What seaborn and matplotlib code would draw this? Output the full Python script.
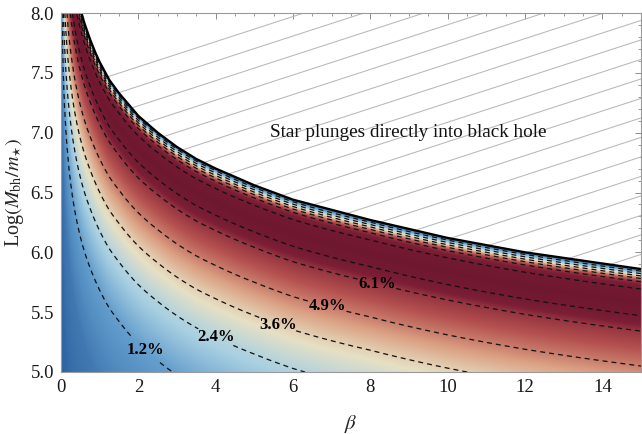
import numpy as np
import matplotlib
matplotlib.use("Agg")
import matplotlib.pyplot as plt
from matplotlib.patches import Polygon
from matplotlib.ticker import MultipleLocator
import seaborn as sns

# Plunge line: points along the black curve (beta, log M_bh/m_star)
plunge_beta = [0.53, 0.60, 0.75, 0.90, 1.0, 1.25, 1.5, 2.0, 2.5, 3.0, 3.5, 4.0, 5.0, 6.0, 8.0, 10.0, 12.0, 15.0]
plunge_logm = [8.00, 7.92, 7.78, 7.66, 7.59, 7.44, 7.33, 7.14, 7.00, 6.88, 6.78, 6.70, 6.56, 6.44, 6.27, 6.12, 6.00, 5.86]

# Efficiency (%) against depth below the plunge line, in dex of beta * M^(2/3)
depth = [0.0, 0.012, 0.025, 0.038, 0.052, 0.070, 0.110, 0.19, 0.26, 0.345, 0.54, 0.725, 0.94, 1.27, 1.8, 2.6, 4.0]
efficiency = [0.5, 1.2, 2.4, 3.6, 4.9, 6.1, 7.3, 7.7, 7.3, 6.1, 4.9, 3.6, 2.4, 1.2, 0.45, 0.1, 0.0]

# Contour levels and where their labels sit
levels = [1.2, 2.4, 3.6, 4.9, 6.1, 7.3]
label_beta = [2.22, 4.0, 5.6, 6.88, 8.17]
label_logm = [5.20, 5.29, 5.39, 5.53, 5.71]

x_ticks = [0, 2, 4, 6, 8, 10, 12, 14]
y_ticks = [5.0, 5.5, 6.0, 6.5, 7.0, 7.5, 8.0]

sns.set_style("ticks")
plt.rcParams["font.family"] = ["Liberation Serif", "DejaVu Serif"]
plt.rcParams["mathtext.fontset"] = "stix"

cmap = sns.blend_palette(
    ["#2d62a0", "#5f9acb", "#a9d0e2", "#e6e0c4", "#dba184", "#b4504f", "#7d1f36", "#6e1830"],
    as_cmap=True,
)

fig = plt.figure(figsize=(6.42, 4.34), dpi=100)
ax = fig.add_axes([61 / 642, 62 / 434, 580 / 642, 359 / 434])

# Efficiency field on a beta / log-mass grid
bgrid = np.linspace(1e-3, 15, 900)
mgrid = np.linspace(5, 8, 600)
B, M = np.meshgrid(bgrid, mgrid)
logu_line = np.log10(plunge_beta) + (2.0 / 3.0) * np.array(plunge_logm)
logu_edge = np.interp(np.log10(B), np.log10(plunge_beta), logu_line)
s = logu_edge - (np.log10(B) + (2.0 / 3.0) * M)
F = np.interp(s, depth, efficiency)
F = np.ma.masked_where(s < 0, F)

ax.imshow(F, extent=[0, 15, 5, 8], origin="lower", aspect="auto",
          cmap=cmap, vmin=0, vmax=7.7, interpolation="bilinear", zorder=1)

cs = ax.contour(B, M, F, levels=levels, colors="#111111", linewidths=0.9,
                linestyles=[(0, (4.0, 3.2))], zorder=3)
labels = ax.clabel(cs, levels=levels[:-1], inline=True, inline_spacing=2,
                   fmt=lambda v: f"{v:.1f}%", fontsize=12,
                   manual=list(zip(label_beta, label_logm)))
for t in labels:
    t.set_rotation(0)
    t.set_fontweight("bold")
    t.set_color("black")

# Hatched plunge region above the boundary
region = Polygon(list(zip(plunge_beta, plunge_logm)) + [(15.5, 5.86), (15.5, 8.5), (0.53, 8.5)],
                 closed=True, facecolor="none", edgecolor="none", transform=ax.transData)
ax.add_patch(region)
slope = 0.325 * 580 / 359
gap = 19.5 / 359
for k in range(-40, 8):
    y_right = 0.925 + k * gap
    ln, = ax.plot([0, 1], [y_right - slope, y_right], transform=ax.transAxes,
                  color="#b8b8b8", lw=0.75, zorder=2)
    ln.set_clip_path(region)

sns.lineplot(x=plunge_beta, y=plunge_logm, color="black", lw=1.7, sort=False,
             ax=ax, zorder=4)

ax.text(8.97, 7.0, "Star plunges directly into black hole", ha="center", va="center",
        fontsize=13.8, color="#111111", zorder=5)

ax.set_xlim(0, 15)
ax.set_ylim(5, 8)
ax.set_xticks(x_ticks)
ax.set_yticks(y_ticks)
ax.set_xticklabels([str(v) for v in x_ticks])
ax.set_yticklabels([f"{v:.1f}" for v in y_ticks])
ax.xaxis.set_minor_locator(MultipleLocator(0.5))
ax.yaxis.set_minor_locator(MultipleLocator(0.1))
ax.tick_params(which="both", direction="in", top=True, right=True,
               color="#8c8c8c", labelsize=13.5, labelcolor="#1a1a1a", zorder=6)
ax.tick_params(which="major", length=4.5, width=0.7, pad=5)
ax.tick_params(which="minor", length=2.5, width=0.6)
for sp in ax.spines.values():
    sp.set_color("#9a9a9a")
    sp.set_linewidth(0.8)
    sp.set_zorder(6)

ax.set_xlabel(r"$\beta$", fontsize=15, labelpad=12)
ax.set_ylabel(r"Log$(M_{\rm bh}/m_{\star})$", fontsize=14.5, labelpad=3)

fig.savefig("out.png", dpi=100)
